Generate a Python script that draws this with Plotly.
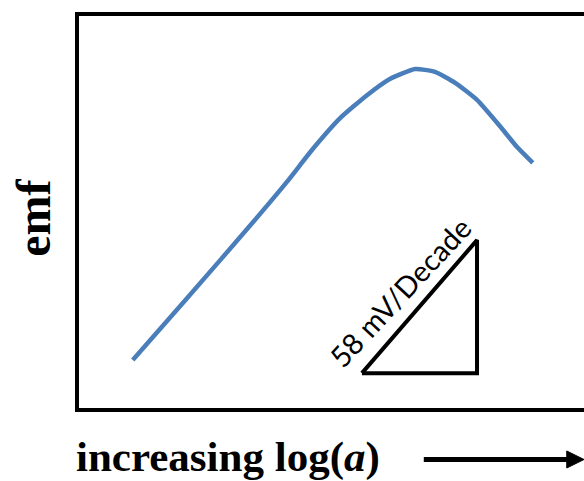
import plotly.graph_objects as go

# data (abstract units: x = log(a), y = emf)
log_a = [1.10, 2.17, 3.47, 4.14, 4.65, 5.19, 5.72, 6.17, 6.67, 7.06, 7.46, 7.89, 8.34, 8.68, 8.99]
emf = [1.26, 2.82, 4.74, 5.76, 6.59, 7.37, 7.95, 8.36, 8.61, 8.54, 8.26, 7.83, 7.17, 6.64, 6.24]
tri_x = [5.62, 7.89, 7.89, 5.62]
tri_y = [0.93, 0.93, 4.29, 0.93]
slope_label = "58 mV/Decade"
x_title = "increasing log(<i>a</i>)"
y_title = "emf"

fig = go.Figure()
fig.add_trace(go.Scatter(x=log_a, y=emf, mode="lines",
                         line=dict(color="#4A7EBB", width=4.5, shape="spline", smoothing=0.5),
                         hoverinfo="skip"))
fig.add_trace(go.Scatter(x=tri_x, y=tri_y, mode="lines",
                         line=dict(color="black", width=4), hoverinfo="skip"))

fig.add_annotation(x=6.37, y=3.0, xref="x", yref="y", text=slope_label, showarrow=False,
                   textangle=-47, font=dict(family="Lato", size=29, color="black"))
fig.add_annotation(x=-0.006, y=-0.118, xref="paper", yref="paper", text=x_title, showarrow=False,
                   xanchor="left", yanchor="middle",
                   font=dict(family="Liberation Serif", size=43, color="black", weight="bold"))
fig.add_annotation(x=-0.085, y=0.485, xref="paper", yref="paper", text=y_title, showarrow=False,
                   textangle=-90, xanchor="center", yanchor="middle",
                   font=dict(family="Liberation Serif", size=48, color="black", weight="bold"))

# frame (open on the right)
fig.add_shape(type="path", xref="paper", yref="paper",
              path="M 1.02,1 L 0,1 L 0,0 L 1.02,0", line=dict(color="black", width=4))
# arrow
fig.add_shape(type="line", xref="paper", yref="paper", x0=0.684, x1=0.972, y0=-0.125, y1=-0.125,
              line=dict(color="black", width=5))
fig.add_shape(type="path", xref="paper", yref="paper",
              path="M 0.966,-0.1035 L 1.0,-0.125 L 0.966,-0.1465 Z",
              fillcolor="black", line=dict(color="black", width=1))

fig.update_xaxes(range=[0, 10], visible=False)
fig.update_yaxes(range=[0, 10], visible=False)
fig.update_layout(width=584, height=481, margin=dict(l=77, r=0, t=14, b=71),
                  paper_bgcolor="white", plot_bgcolor="white", showlegend=False)
fig.write_html("out.html")
